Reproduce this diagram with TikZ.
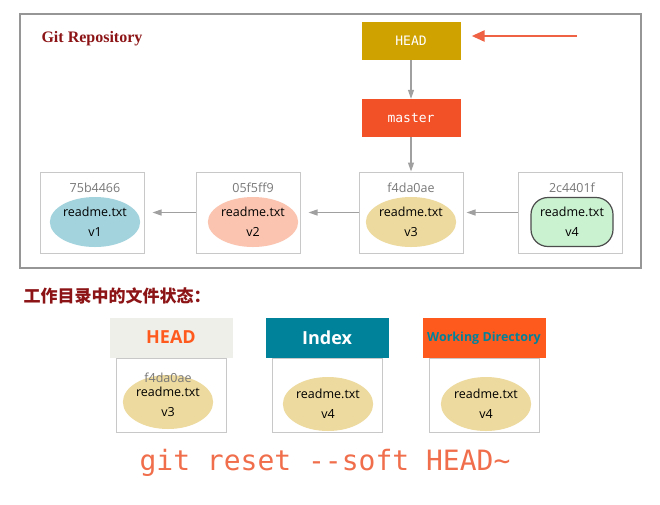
\documentclass[tikz,border=0pt]{standalone}
\usepackage{fontspec}
\setmainfont{Open Sans}
\setmonofont{DejaVu Sans Mono}
\newfontfamily\cjk{Noto Sans CJK SC}
\newfontfamily\timesfont{Liberation Serif}
\usetikzlibrary{arrows.meta, positioning, shapes.geometric}

\definecolor{darkred}{RGB}{140,20,22}
\definecolor{headgold}{RGB}{208,162,0}
\definecolor{masterred}{RGB}{242,80,39}
\definecolor{pointred}{RGB}{240,98,68}
\definecolor{linegray}{RGB}{160,160,160}
\definecolor{boxgray}{RGB}{200,200,200}
\definecolor{framegray}{RGB}{150,150,150}
\definecolor{hashgray}{RGB}{120,120,120}
\definecolor{vone}{RGB}{163,211,221}
\definecolor{vtwo}{RGB}{250,196,176}
\definecolor{vthree}{RGB}{237,218,158}
\definecolor{vfour}{RGB}{202,241,208}
\definecolor{paleband}{RGB}{239,239,234}
\definecolor{indexteal}{RGB}{0,130,155}
\definecolor{wdorange}{RGB}{255,90,30}
\definecolor{cmdorange}{RGB}{240,110,75}

\begin{document}
\begin{tikzpicture}[x=1pt, y=-1pt,
    every node/.style={font=\fontsize{12.5}{14}\selectfont},
    cbox/.style={draw=boxgray, line width=1pt, fill=white, minimum width=104pt, minimum height=81pt},
    blob/.style={ellipse, minimum width=84pt, minimum height=50pt, inner sep=0pt, align=center, font=\fontsize{12.5}{20}\selectfont},
    hsh/.style={text=hashgray, inner sep=1pt},
    ref/.style={minimum width=99pt, minimum height=38pt, text=white, font=\ttfamily\fontsize{13}{15}\selectfont},
    band/.style={minimum width=123pt, minimum height=40pt, font=\bfseries\fontsize{18}{20}\selectfont},
    body/.style={draw=boxgray, line width=1pt, fill=white, minimum width=110pt, minimum height=74pt},
    a/.style={-{Triangle[length=9pt, width=6pt]}, draw=linegray, line width=1.2pt},
    ra/.style={-{Triangle[length=13pt, width=11pt]}, draw=pointred, line width=2.6pt}
]
\useasboundingbox (0,0) rectangle (660,504);

% repository frame
\node[draw=framegray, line width=1.5pt, minimum width=621pt, minimum height=254pt] (repo) at (330.5,141) {};
\node[anchor=west, text=darkred, font=\timesfont\bfseries\fontsize{16}{18}\selectfont] (repotitle) at (38,39) {Git Repository};

% refs
\node[ref, fill=headgold] (head) at (411,41) {HEAD};
\node[ref, fill=masterred] (master) at (411,118) {master};
\coordinate (pointer) at (577,36);

% commits
\node[cbox] (c1) at (92,212.5) {};
\node[cbox] (c2) at (248,212.5) {};
\node[cbox] (c3) at (411,212.5) {};
\node[cbox] (c4) at (570,212.5) {};
\node[hsh] (h1) at (95,188) {75b4466};
\node[hsh] (h2) at (253,188) {05f5ff9};
\node[hsh] (h3) at (411,188) {f4da0ae};
\node[hsh] (h4) at (572,188) {2c4401f};
\node[blob, fill=vone] (f1) at (95,222) {readme.txt\\v1};
\node[blob, fill=vtwo] (f2) at (253,222) {readme.txt\\v2};
\node[blob, fill=vthree] (f3) at (411,222) {readme.txt\\v3};
\node[blob, shape=rectangle, rounded corners=17pt, draw=black!70, line width=1.2pt, fill=vfour, minimum width=82pt, minimum height=49pt] (f4) at (572,222) {readme.txt\\v4};

\draw[ra, shorten >=11pt] (pointer) -- (pointer -| head.east);
\draw[a] (head) -- (master);
\draw[a] (master) -- (c3);
\draw[a, shorten >=8pt] (c2) -- (c1);
\draw[a, shorten >=8pt] (c3) -- (c2);
\draw[a, shorten >=3pt] (c4) -- (c3);

% working tree state
\node[anchor=west, text=darkred, font=\cjk\bfseries\fontsize{17}{19}\selectfont] (state) at (20,296) {工作目录中的文件状态：};

\node[band, fill=paleband, text=wdorange] (bhead) at (171,337.5) {HEAD};
\node[band, fill=indexteal, text=white] (bindex) at (327,338) {Index};
\node[band, fill=wdorange, text=indexteal, inner sep=1pt, font=\bfseries\fontsize{12.5}{14}\selectfont] (bwd) at (484,338) {Working Directory};

\node[body, below=0pt of bhead] (khead) {};
\node[body, below=0pt of bindex] (kindex) {};
\node[body, below=0pt of bwd] (kwd) {};

\node[blob, fill=vthree, minimum height=54pt] (g1) at (168,402) {readme.txt\\v3};
\node[hsh] (g1h) at (168,378) {f4da0ae};
\node[blob, fill=vthree, minimum height=54pt] (g2) at (328,404) {readme.txt\\v4};
\node[blob, fill=vthree, minimum height=54pt] (g3) at (486,404) {readme.txt\\v4};

\node[text=cmdorange, font=\ttfamily\fontsize{28}{30}\selectfont] (cmd) at (325,463) {git reset --soft HEAD\textasciitilde};
\end{tikzpicture}
\end{document}
